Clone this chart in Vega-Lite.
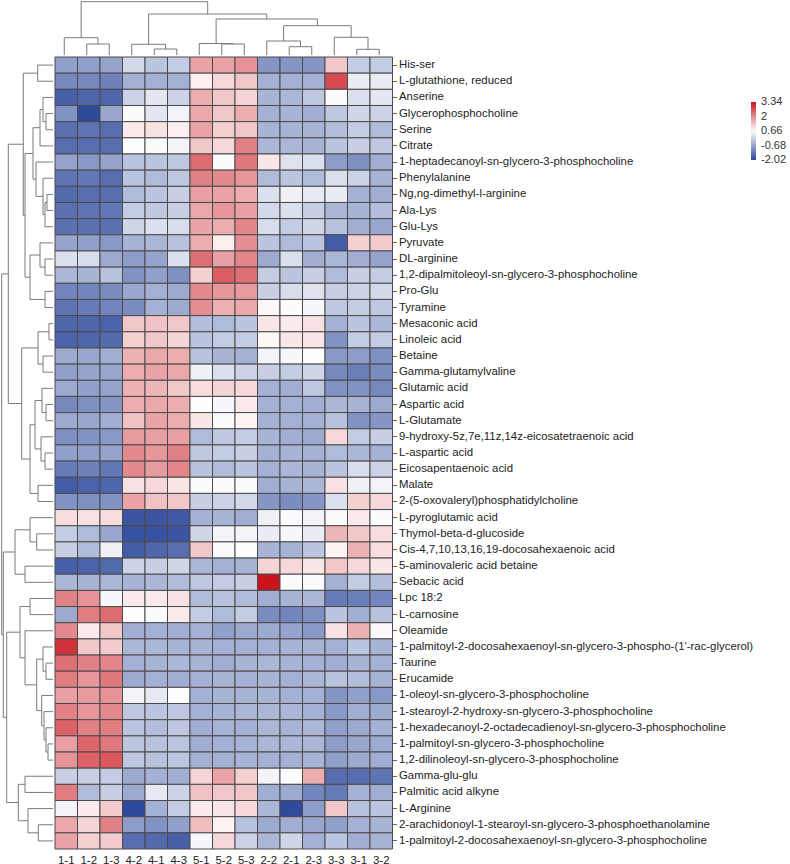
{
"$schema": "https://vega.github.io/schema/vega-lite/v6.json",
"background": "white",
"padding": 0,
"spacing": 0,
"config": {"view": {"stroke": null}, "font": "Liberation Sans", "concat": {"spacing": 0}},
"datasets": {
"names": [
{"r":1,"m":"His-ser"},{"r":2,"m":"L-glutathione, reduced"},{"r":3,"m":"Anserine"},{"r":4,"m":"Glycerophosphocholine"},{"r":5,"m":"Serine"},{"r":6,"m":"Citrate"},{"r":7,"m":"1-heptadecanoyl-sn-glycero-3-phosphocholine"},{"r":8,"m":"Phenylalanine"},{"r":9,"m":"Ng,ng-dimethyl-l-arginine"},{"r":10,"m":"Ala-Lys"},{"r":11,"m":"Glu-Lys"},{"r":12,"m":"Pyruvate"},{"r":13,"m":"DL-arginine"},{"r":14,"m":"1,2-dipalmitoleoyl-sn-glycero-3-phosphocholine"},{"r":15,"m":"Pro-Glu"},{"r":16,"m":"Tyramine"},{"r":17,"m":"Mesaconic acid"},{"r":18,"m":"Linoleic acid"},{"r":19,"m":"Betaine"},{"r":20,"m":"Gamma-glutamylvaline"},{"r":21,"m":"Glutamic acid"},{"r":22,"m":"Aspartic acid"},{"r":23,"m":"L-Glutamate"},{"r":24,"m":"9-hydroxy-5z,7e,11z,14z-eicosatetraenoic acid"},{"r":25,"m":"L-aspartic acid"},{"r":26,"m":"Eicosapentaenoic acid"},{"r":27,"m":"Malate"},{"r":28,"m":"2-(5-oxovaleryl)phosphatidylcholine"},{"r":29,"m":"L-pyroglutamic acid"},{"r":30,"m":"Thymol-beta-d-glucoside"},{"r":31,"m":"Cis-4,7,10,13,16,19-docosahexaenoic acid"},{"r":32,"m":"5-aminovaleric acid betaine"},{"r":33,"m":"Sebacic acid"},{"r":34,"m":"Lpc 18:2"},{"r":35,"m":"L-carnosine"},{"r":36,"m":"Oleamide"},{"r":37,"m":"1-palmitoyl-2-docosahexaenoyl-sn-glycero-3-phospho-(1'-rac-glycerol)"},{"r":38,"m":"Taurine"},{"r":39,"m":"Erucamide"},{"r":40,"m":"1-oleoyl-sn-glycero-3-phosphocholine"},{"r":41,"m":"1-stearoyl-2-hydroxy-sn-glycero-3-phosphocholine"},{"r":42,"m":"1-hexadecanoyl-2-octadecadienoyl-sn-glycero-3-phosphocholine"},{"r":43,"m":"1-palmitoyl-sn-glycero-3-phosphocholine"},{"r":44,"m":"1,2-dilinoleoyl-sn-glycero-3-phosphocholine"},{"r":45,"m":"Gamma-glu-glu"},{"r":46,"m":"Palmitic acid alkyne"},{"r":47,"m":"L-Arginine"},{"r":48,"m":"2-arachidonoyl-1-stearoyl-sn-glycero-3-phosphoethanolamine"},{"r":49,"m":"1-palmitoyl-2-docosahexaenoyl-sn-glycero-3-phosphocholine"}
],
"cells": [
{"r":1,"s":"1-1","v":-0.75},{"r":1,"s":"1-2","v":-0.75},{"r":1,"s":"1-3","v":-0.7},{"r":1,"s":"4-2","v":0.1},{"r":1,"s":"4-1","v":-0.2},{"r":1,"s":"4-3","v":-0.1},{"r":1,"s":"5-1","v":1.7},{"r":1,"s":"5-2","v":1.7},{"r":1,"s":"5-3","v":1.9},{"r":1,"s":"2-2","v":-0.9},{"r":1,"s":"2-1","v":-0.9},{"r":1,"s":"2-3","v":-0.9},{"r":1,"s":"3-3","v":1.3},{"r":1,"s":"3-1","v":-0.1},{"r":1,"s":"3-2","v":-0.1},
{"r":2,"s":"1-1","v":-1.1},{"r":2,"s":"1-2","v":-1.1},{"r":2,"s":"1-3","v":-1.2},{"r":2,"s":"4-2","v":-0.5},{"r":2,"s":"4-1","v":-0.5},{"r":2,"s":"4-3","v":-0.5},{"r":2,"s":"5-1","v":0.85},{"r":2,"s":"5-2","v":1.1},{"r":2,"s":"5-3","v":1.3},{"r":2,"s":"2-2","v":-0.5},{"r":2,"s":"2-1","v":-0.5},{"r":2,"s":"2-3","v":-0.5},{"r":2,"s":"3-3","v":2.7},{"r":2,"s":"3-1","v":0.4},{"r":2,"s":"3-2","v":0.4},
{"r":3,"s":"1-1","v":-1.7},{"r":3,"s":"1-2","v":-1.6},{"r":3,"s":"1-3","v":-1.6},{"r":3,"s":"4-2","v":0.0},{"r":3,"s":"4-1","v":0.3},{"r":3,"s":"4-3","v":0.0},{"r":3,"s":"5-1","v":1.6},{"r":3,"s":"5-2","v":1.3},{"r":3,"s":"5-3","v":1.15},{"r":3,"s":"2-2","v":-0.45},{"r":3,"s":"2-1","v":-0.4},{"r":3,"s":"2-3","v":-0.15},{"r":3,"s":"3-3","v":0.6},{"r":3,"s":"3-1","v":0.2},{"r":3,"s":"3-2","v":0.3},
{"r":4,"s":"1-1","v":-0.95},{"r":4,"s":"1-2","v":-2.02},{"r":4,"s":"1-3","v":-0.65},{"r":4,"s":"4-2","v":0.6},{"r":4,"s":"4-1","v":0.3},{"r":4,"s":"4-3","v":0.5},{"r":4,"s":"5-1","v":1.65},{"r":4,"s":"5-2","v":1.3},{"r":4,"s":"5-3","v":1.6},{"r":4,"s":"2-2","v":-0.5},{"r":4,"s":"2-1","v":-0.45},{"r":4,"s":"2-3","v":-0.55},{"r":4,"s":"3-3","v":-0.15},{"r":4,"s":"3-1","v":0.05},{"r":4,"s":"3-2","v":0.0},
{"r":5,"s":"1-1","v":-1.45},{"r":5,"s":"1-2","v":-1.4},{"r":5,"s":"1-3","v":-1.5},{"r":5,"s":"4-2","v":0.9},{"r":5,"s":"4-1","v":1.0},{"r":5,"s":"4-3","v":0.85},{"r":5,"s":"5-1","v":1.7},{"r":5,"s":"5-2","v":1.2},{"r":5,"s":"5-3","v":1.3},{"r":5,"s":"2-2","v":-0.45},{"r":5,"s":"2-1","v":-0.45},{"r":5,"s":"2-3","v":-0.45},{"r":5,"s":"3-3","v":-0.3},{"r":5,"s":"3-1","v":-0.1},{"r":5,"s":"3-2","v":-0.35},
{"r":6,"s":"1-1","v":-1.5},{"r":6,"s":"1-2","v":-1.5},{"r":6,"s":"1-3","v":-1.5},{"r":6,"s":"4-2","v":0.65},{"r":6,"s":"4-1","v":0.6},{"r":6,"s":"4-3","v":0.5},{"r":6,"s":"5-1","v":1.3},{"r":6,"s":"5-2","v":1.1},{"r":6,"s":"5-3","v":2.1},{"r":6,"s":"2-2","v":-0.4},{"r":6,"s":"2-1","v":-0.4},{"r":6,"s":"2-3","v":-0.45},{"r":6,"s":"3-3","v":-0.2},{"r":6,"s":"3-1","v":-0.05},{"r":6,"s":"3-2","v":-0.15},
{"r":7,"s":"1-1","v":-0.7},{"r":7,"s":"1-2","v":-0.85},{"r":7,"s":"1-3","v":-0.7},{"r":7,"s":"4-2","v":-0.2},{"r":7,"s":"4-1","v":-0.2},{"r":7,"s":"4-3","v":-0.15},{"r":7,"s":"5-1","v":2.35},{"r":7,"s":"5-2","v":0.7},{"r":7,"s":"5-3","v":2.2},{"r":7,"s":"2-2","v":0.95},{"r":7,"s":"2-1","v":0.25},{"r":7,"s":"2-3","v":0.2},{"r":7,"s":"3-3","v":-0.8},{"r":7,"s":"3-1","v":-1.0},{"r":7,"s":"3-2","v":-0.55},
{"r":8,"s":"1-1","v":-1.4},{"r":8,"s":"1-2","v":-1.35},{"r":8,"s":"1-3","v":-1.5},{"r":8,"s":"4-2","v":-0.2},{"r":8,"s":"4-1","v":-0.35},{"r":8,"s":"4-3","v":-0.15},{"r":8,"s":"5-1","v":2.1},{"r":8,"s":"5-2","v":2.0},{"r":8,"s":"5-3","v":1.85},{"r":8,"s":"2-2","v":-0.35},{"r":8,"s":"2-1","v":-0.2},{"r":8,"s":"2-3","v":-0.35},{"r":8,"s":"3-3","v":0.2},{"r":8,"s":"3-1","v":0.0},{"r":8,"s":"3-2","v":-0.45},
{"r":9,"s":"1-1","v":-1.55},{"r":9,"s":"1-2","v":-1.5},{"r":9,"s":"1-3","v":-1.5},{"r":9,"s":"4-2","v":-0.35},{"r":9,"s":"4-1","v":-0.2},{"r":9,"s":"4-3","v":-0.05},{"r":9,"s":"5-1","v":1.75},{"r":9,"s":"5-2","v":1.7},{"r":9,"s":"5-3","v":1.6},{"r":9,"s":"2-2","v":0.2},{"r":9,"s":"2-1","v":0.45},{"r":9,"s":"2-3","v":0.35},{"r":9,"s":"3-3","v":0.4},{"r":9,"s":"3-1","v":-0.5},{"r":9,"s":"3-2","v":-0.55},
{"r":10,"s":"1-1","v":-1.45},{"r":10,"s":"1-2","v":-1.4},{"r":10,"s":"1-3","v":-1.35},{"r":10,"s":"4-2","v":-0.1},{"r":10,"s":"4-1","v":-0.15},{"r":10,"s":"4-3","v":-0.05},{"r":10,"s":"5-1","v":1.65},{"r":10,"s":"5-2","v":1.85},{"r":10,"s":"5-3","v":1.75},{"r":10,"s":"2-2","v":0.1},{"r":10,"s":"2-1","v":0.2},{"r":10,"s":"2-3","v":-0.05},{"r":10,"s":"3-3","v":-0.4},{"r":10,"s":"3-1","v":-0.45},{"r":10,"s":"3-2","v":-0.3},
{"r":11,"s":"1-1","v":-1.45},{"r":11,"s":"1-2","v":-1.45},{"r":11,"s":"1-3","v":-1.45},{"r":11,"s":"4-2","v":0.05},{"r":11,"s":"4-1","v":0.2},{"r":11,"s":"4-3","v":0.15},{"r":11,"s":"5-1","v":1.7},{"r":11,"s":"5-2","v":1.6},{"r":11,"s":"5-3","v":2.05},{"r":11,"s":"2-2","v":0.15},{"r":11,"s":"2-1","v":-0.1},{"r":11,"s":"2-3","v":0.05},{"r":11,"s":"3-3","v":-0.25},{"r":11,"s":"3-1","v":-0.55},{"r":11,"s":"3-2","v":-0.65},
{"r":12,"s":"1-1","v":-0.7},{"r":12,"s":"1-2","v":-0.75},{"r":12,"s":"1-3","v":-0.85},{"r":12,"s":"4-2","v":-0.45},{"r":12,"s":"4-1","v":-0.4},{"r":12,"s":"4-3","v":-0.25},{"r":12,"s":"5-1","v":1.6},{"r":12,"s":"5-2","v":0.85},{"r":12,"s":"5-3","v":1.95},{"r":12,"s":"2-2","v":-0.2},{"r":12,"s":"2-1","v":-0.35},{"r":12,"s":"2-3","v":-0.2},{"r":12,"s":"3-3","v":-1.75},{"r":12,"s":"3-1","v":1.2},{"r":12,"s":"3-2","v":1.25},
{"r":13,"s":"1-1","v":0.2},{"r":13,"s":"1-2","v":0.15},{"r":13,"s":"1-3","v":-0.6},{"r":13,"s":"4-2","v":-0.8},{"r":13,"s":"4-1","v":-0.7},{"r":13,"s":"4-3","v":0.2},{"r":13,"s":"5-1","v":2.3},{"r":13,"s":"5-2","v":1.75},{"r":13,"s":"5-3","v":2.05},{"r":13,"s":"2-2","v":-0.6},{"r":13,"s":"2-1","v":0.2},{"r":13,"s":"2-3","v":-0.55},{"r":13,"s":"3-3","v":-0.4},{"r":13,"s":"3-1","v":-0.55},{"r":13,"s":"3-2","v":-0.7},
{"r":14,"s":"1-1","v":-0.4},{"r":14,"s":"1-2","v":-0.45},{"r":14,"s":"1-3","v":-0.25},{"r":14,"s":"4-2","v":-0.95},{"r":14,"s":"4-1","v":-0.75},{"r":14,"s":"4-3","v":-1.0},{"r":14,"s":"5-1","v":1.2},{"r":14,"s":"5-2","v":2.5},{"r":14,"s":"5-3","v":2.3},{"r":14,"s":"2-2","v":-0.1},{"r":14,"s":"2-1","v":-0.2},{"r":14,"s":"2-3","v":-0.05},{"r":14,"s":"3-3","v":-0.35},{"r":14,"s":"3-1","v":-0.05},{"r":14,"s":"3-2","v":-0.1},
{"r":15,"s":"1-1","v":-1.15},{"r":15,"s":"1-2","v":-1.15},{"r":15,"s":"1-3","v":-1.05},{"r":15,"s":"4-2","v":-0.65},{"r":15,"s":"4-1","v":-0.5},{"r":15,"s":"4-3","v":-0.6},{"r":15,"s":"5-1","v":2.0},{"r":15,"s":"5-2","v":1.85},{"r":15,"s":"5-3","v":1.8},{"r":15,"s":"2-2","v":-0.05},{"r":15,"s":"2-1","v":0.15},{"r":15,"s":"2-3","v":0.25},{"r":15,"s":"3-3","v":-0.05},{"r":15,"s":"3-1","v":0.0},{"r":15,"s":"3-2","v":0.1},
{"r":16,"s":"1-1","v":-1.4},{"r":16,"s":"1-2","v":-1.3},{"r":16,"s":"1-3","v":-1.15},{"r":16,"s":"4-2","v":-1.05},{"r":16,"s":"4-1","v":-0.5},{"r":16,"s":"4-3","v":-0.6},{"r":16,"s":"5-1","v":1.95},{"r":16,"s":"5-2","v":1.55},{"r":16,"s":"5-3","v":1.65},{"r":16,"s":"2-2","v":0.75},{"r":16,"s":"2-1","v":0.7},{"r":16,"s":"2-3","v":0.55},{"r":16,"s":"3-3","v":-0.15},{"r":16,"s":"3-1","v":-0.1},{"r":16,"s":"3-2","v":-0.15},
{"r":17,"s":"1-1","v":-1.6},{"r":17,"s":"1-2","v":-1.6},{"r":17,"s":"1-3","v":-1.65},{"r":17,"s":"4-2","v":1.3},{"r":17,"s":"4-1","v":1.35},{"r":17,"s":"4-3","v":1.3},{"r":17,"s":"5-1","v":-0.3},{"r":17,"s":"5-2","v":-0.35},{"r":17,"s":"5-3","v":-0.2},{"r":17,"s":"2-2","v":0.95},{"r":17,"s":"2-1","v":0.9},{"r":17,"s":"2-3","v":1.0},{"r":17,"s":"3-3","v":-0.5},{"r":17,"s":"3-1","v":-0.2},{"r":17,"s":"3-2","v":-0.4},
{"r":18,"s":"1-1","v":-1.65},{"r":18,"s":"1-2","v":-1.6},{"r":18,"s":"1-3","v":-1.55},{"r":18,"s":"4-2","v":1.2},{"r":18,"s":"4-1","v":1.3},{"r":18,"s":"4-3","v":1.15},{"r":18,"s":"5-1","v":-0.2},{"r":18,"s":"5-2","v":-0.1},{"r":18,"s":"5-3","v":-0.1},{"r":18,"s":"2-2","v":0.75},{"r":18,"s":"2-1","v":0.95},{"r":18,"s":"2-3","v":0.95},{"r":18,"s":"3-3","v":-0.95},{"r":18,"s":"3-1","v":-0.1},{"r":18,"s":"3-2","v":-0.1},
{"r":19,"s":"1-1","v":-0.6},{"r":19,"s":"1-2","v":-0.65},{"r":19,"s":"1-3","v":-0.55},{"r":19,"s":"4-2","v":1.55},{"r":19,"s":"4-1","v":1.65},{"r":19,"s":"4-3","v":1.6},{"r":19,"s":"5-1","v":-0.25},{"r":19,"s":"5-2","v":-0.45},{"r":19,"s":"5-3","v":-0.5},{"r":19,"s":"2-2","v":0.5},{"r":19,"s":"2-1","v":0.55},{"r":19,"s":"2-3","v":0.65},{"r":19,"s":"3-3","v":-0.85},{"r":19,"s":"3-1","v":-0.8},{"r":19,"s":"3-2","v":-1.0},
{"r":20,"s":"1-1","v":-0.75},{"r":20,"s":"1-2","v":-0.7},{"r":20,"s":"1-3","v":-0.65},{"r":20,"s":"4-2","v":1.6},{"r":20,"s":"4-1","v":1.7},{"r":20,"s":"4-3","v":1.65},{"r":20,"s":"5-1","v":0.45},{"r":20,"s":"5-2","v":0.2},{"r":20,"s":"5-3","v":0.0},{"r":20,"s":"2-2","v":-0.05},{"r":20,"s":"2-1","v":-0.1},{"r":20,"s":"2-3","v":0.05},{"r":20,"s":"3-3","v":-1.1},{"r":20,"s":"3-1","v":-1.25},{"r":20,"s":"3-2","v":-1.05},
{"r":21,"s":"1-1","v":-0.6},{"r":21,"s":"1-2","v":-0.75},{"r":21,"s":"1-3","v":-0.7},{"r":21,"s":"4-2","v":1.55},{"r":21,"s":"4-1","v":1.5},{"r":21,"s":"4-3","v":1.3},{"r":21,"s":"5-1","v":1.05},{"r":21,"s":"5-2","v":1.15},{"r":21,"s":"5-3","v":1.1},{"r":21,"s":"2-2","v":-0.5},{"r":21,"s":"2-1","v":-0.55},{"r":21,"s":"2-3","v":-0.15},{"r":21,"s":"3-3","v":-0.95},{"r":21,"s":"3-1","v":-0.95},{"r":21,"s":"3-2","v":-1.1},
{"r":22,"s":"1-1","v":-1.1},{"r":22,"s":"1-2","v":-1.0},{"r":22,"s":"1-3","v":-0.9},{"r":22,"s":"4-2","v":1.6},{"r":22,"s":"4-1","v":1.65},{"r":22,"s":"4-3","v":1.6},{"r":22,"s":"5-1","v":0.65},{"r":22,"s":"5-2","v":0.55},{"r":22,"s":"5-3","v":0.9},{"r":22,"s":"2-2","v":-0.5},{"r":22,"s":"2-1","v":-0.5},{"r":22,"s":"2-3","v":-0.55},{"r":22,"s":"3-3","v":-0.4},{"r":22,"s":"3-1","v":-0.45},{"r":22,"s":"3-2","v":-0.6},
{"r":23,"s":"1-1","v":-0.6},{"r":23,"s":"1-2","v":-0.65},{"r":23,"s":"1-3","v":-0.55},{"r":23,"s":"4-2","v":1.35},{"r":23,"s":"4-1","v":1.7},{"r":23,"s":"4-3","v":1.6},{"r":23,"s":"5-1","v":0.95},{"r":23,"s":"5-2","v":0.6},{"r":23,"s":"5-3","v":0.8},{"r":23,"s":"2-2","v":-0.5},{"r":23,"s":"2-1","v":-0.5},{"r":23,"s":"2-3","v":-0.5},{"r":23,"s":"3-3","v":-0.25},{"r":23,"s":"3-1","v":-0.95},{"r":23,"s":"3-2","v":-0.9},
{"r":24,"s":"1-1","v":-1.0},{"r":24,"s":"1-2","v":-0.95},{"r":24,"s":"1-3","v":-0.85},{"r":24,"s":"4-2","v":1.8},{"r":24,"s":"4-1","v":1.75},{"r":24,"s":"4-3","v":1.75},{"r":24,"s":"5-1","v":-0.35},{"r":24,"s":"5-2","v":-0.15},{"r":24,"s":"5-3","v":-0.1},{"r":24,"s":"2-2","v":-0.45},{"r":24,"s":"2-1","v":-0.55},{"r":24,"s":"2-3","v":-0.6},{"r":24,"s":"3-3","v":1.1},{"r":24,"s":"3-1","v":-0.1},{"r":24,"s":"3-2","v":-0.05},
{"r":25,"s":"1-1","v":-0.75},{"r":25,"s":"1-2","v":-0.75},{"r":25,"s":"1-3","v":-0.7},{"r":25,"s":"4-2","v":2.0},{"r":25,"s":"4-1","v":1.85},{"r":25,"s":"4-3","v":2.1},{"r":25,"s":"5-1","v":-0.15},{"r":25,"s":"5-2","v":-0.1},{"r":25,"s":"5-3","v":-0.05},{"r":25,"s":"2-2","v":-0.5},{"r":25,"s":"2-1","v":-0.45},{"r":25,"s":"2-3","v":-0.5},{"r":25,"s":"3-3","v":-0.35},{"r":25,"s":"3-1","v":-0.4},{"r":25,"s":"3-2","v":-0.5},
{"r":26,"s":"1-1","v":-1.3},{"r":26,"s":"1-2","v":-1.2},{"r":26,"s":"1-3","v":-1.35},{"r":26,"s":"4-2","v":2.0},{"r":26,"s":"4-1","v":1.8},{"r":26,"s":"4-3","v":2.05},{"r":26,"s":"5-1","v":-0.25},{"r":26,"s":"5-2","v":-0.35},{"r":26,"s":"5-3","v":-0.2},{"r":26,"s":"2-2","v":-0.5},{"r":26,"s":"2-1","v":-0.4},{"r":26,"s":"2-3","v":-0.45},{"r":26,"s":"3-3","v":-0.2},{"r":26,"s":"3-1","v":0.15},{"r":26,"s":"3-2","v":0.0},
{"r":27,"s":"1-1","v":-1.75},{"r":27,"s":"1-2","v":-1.65},{"r":27,"s":"1-3","v":-1.6},{"r":27,"s":"4-2","v":1.0},{"r":27,"s":"4-1","v":1.1},{"r":27,"s":"4-3","v":0.95},{"r":27,"s":"5-1","v":0.6},{"r":27,"s":"5-2","v":0.7},{"r":27,"s":"5-3","v":0.6},{"r":27,"s":"2-2","v":-0.55},{"r":27,"s":"2-1","v":-0.45},{"r":27,"s":"2-3","v":-0.4},{"r":27,"s":"3-3","v":1.0},{"r":27,"s":"3-1","v":0.45},{"r":27,"s":"3-2","v":0.5},
{"r":28,"s":"1-1","v":-0.95},{"r":28,"s":"1-2","v":-1.0},{"r":28,"s":"1-3","v":-0.95},{"r":28,"s":"4-2","v":1.7},{"r":28,"s":"4-1","v":1.35},{"r":28,"s":"4-3","v":1.3},{"r":28,"s":"5-1","v":-0.05},{"r":28,"s":"5-2","v":0.0},{"r":28,"s":"5-3","v":0.1},{"r":28,"s":"2-2","v":-0.9},{"r":28,"s":"2-1","v":-1.05},{"r":28,"s":"2-3","v":-0.9},{"r":28,"s":"3-3","v":0.2},{"r":28,"s":"3-1","v":1.2},{"r":28,"s":"3-2","v":1.1},
{"r":29,"s":"1-1","v":1.05},{"r":29,"s":"1-2","v":1.0},{"r":29,"s":"1-3","v":1.05},{"r":29,"s":"4-2","v":-1.85},{"r":29,"s":"4-1","v":-1.85},{"r":29,"s":"4-3","v":-1.8},{"r":29,"s":"5-1","v":-0.5},{"r":29,"s":"5-2","v":-0.45},{"r":29,"s":"5-3","v":-0.55},{"r":29,"s":"2-2","v":0.45},{"r":29,"s":"2-1","v":0.6},{"r":29,"s":"2-3","v":0.5},{"r":29,"s":"3-3","v":0.6},{"r":29,"s":"3-1","v":0.9},{"r":29,"s":"3-2","v":0.6},
{"r":30,"s":"1-1","v":-0.1},{"r":30,"s":"1-2","v":-0.35},{"r":30,"s":"1-3","v":-0.65},{"r":30,"s":"4-2","v":-1.9},{"r":30,"s":"4-1","v":-1.9},{"r":30,"s":"4-3","v":-1.85},{"r":30,"s":"5-1","v":0.05},{"r":30,"s":"5-2","v":0.5},{"r":30,"s":"5-3","v":0.5},{"r":30,"s":"2-2","v":0.4},{"r":30,"s":"2-1","v":0.55},{"r":30,"s":"2-3","v":0.4},{"r":30,"s":"3-3","v":1.5},{"r":30,"s":"3-1","v":1.3},{"r":30,"s":"3-2","v":1.05},
{"r":31,"s":"1-1","v":-0.05},{"r":31,"s":"1-2","v":-0.35},{"r":31,"s":"1-3","v":0.45},{"r":31,"s":"4-2","v":-1.75},{"r":31,"s":"4-1","v":-1.6},{"r":31,"s":"4-3","v":-1.5},{"r":31,"s":"5-1","v":1.3},{"r":31,"s":"5-2","v":0.6},{"r":31,"s":"5-3","v":0.65},{"r":31,"s":"2-2","v":-0.45},{"r":31,"s":"2-1","v":-0.45},{"r":31,"s":"2-3","v":-0.2},{"r":31,"s":"3-3","v":0.8},{"r":31,"s":"3-1","v":1.55},{"r":31,"s":"3-2","v":1.05},
{"r":32,"s":"1-1","v":-1.7},{"r":32,"s":"1-2","v":-1.65},{"r":32,"s":"1-3","v":-1.55},{"r":32,"s":"4-2","v":0.0},{"r":32,"s":"4-1","v":-0.05},{"r":32,"s":"4-3","v":0.05},{"r":32,"s":"5-1","v":-0.4},{"r":32,"s":"5-2","v":-0.5},{"r":32,"s":"5-3","v":-0.45},{"r":32,"s":"2-2","v":1.15},{"r":32,"s":"2-1","v":1.1},{"r":32,"s":"2-3","v":0.95},{"r":32,"s":"3-3","v":1.3},{"r":32,"s":"3-1","v":1.1},{"r":32,"s":"3-2","v":0.95},
{"r":33,"s":"1-1","v":-0.4},{"r":33,"s":"1-2","v":-0.45},{"r":33,"s":"1-3","v":-0.4},{"r":33,"s":"4-2","v":-0.45},{"r":33,"s":"4-1","v":-0.4},{"r":33,"s":"4-3","v":-0.35},{"r":33,"s":"5-1","v":-0.15},{"r":33,"s":"5-2","v":-0.1},{"r":33,"s":"5-3","v":-0.05},{"r":33,"s":"2-2","v":3.34},{"r":33,"s":"2-1","v":0.6},{"r":33,"s":"2-3","v":0.6},{"r":33,"s":"3-3","v":-0.5},{"r":33,"s":"3-1","v":-0.1},{"r":33,"s":"3-2","v":-0.3},
{"r":34,"s":"1-1","v":2.1},{"r":34,"s":"1-2","v":1.9},{"r":34,"s":"1-3","v":0.55},{"r":34,"s":"4-2","v":0.9},{"r":34,"s":"4-1","v":0.9},{"r":34,"s":"4-3","v":1.0},{"r":34,"s":"5-1","v":-0.35},{"r":34,"s":"5-2","v":-0.25},{"r":34,"s":"5-3","v":-0.35},{"r":34,"s":"2-2","v":-0.55},{"r":34,"s":"2-1","v":-0.45},{"r":34,"s":"2-3","v":-0.4},{"r":34,"s":"3-3","v":-1.3},{"r":34,"s":"3-1","v":-1.25},{"r":34,"s":"3-2","v":-1.15},
{"r":35,"s":"1-1","v":-0.6},{"r":35,"s":"1-2","v":2.15},{"r":35,"s":"1-3","v":2.35},{"r":35,"s":"4-2","v":0.65},{"r":35,"s":"4-1","v":0.6},{"r":35,"s":"4-3","v":0.9},{"r":35,"s":"5-1","v":-0.1},{"r":35,"s":"5-2","v":-0.35},{"r":35,"s":"5-3","v":-0.1},{"r":35,"s":"2-2","v":-1.05},{"r":35,"s":"2-1","v":-1.15},{"r":35,"s":"2-3","v":-1.0},{"r":35,"s":"3-3","v":-0.2},{"r":35,"s":"3-1","v":-0.55},{"r":35,"s":"3-2","v":-0.25},
{"r":36,"s":"1-1","v":2.0},{"r":36,"s":"1-2","v":0.9},{"r":36,"s":"1-3","v":1.3},{"r":36,"s":"4-2","v":-0.55},{"r":36,"s":"4-1","v":-0.5},{"r":36,"s":"4-3","v":-0.55},{"r":36,"s":"5-1","v":-0.5},{"r":36,"s":"5-2","v":-0.75},{"r":36,"s":"5-3","v":-0.6},{"r":36,"s":"2-2","v":-0.6},{"r":36,"s":"2-1","v":-0.7},{"r":36,"s":"2-3","v":-0.85},{"r":36,"s":"3-3","v":1.0},{"r":36,"s":"3-1","v":1.55},{"r":36,"s":"3-2","v":0.75},
{"r":37,"s":"1-1","v":3.0},{"r":37,"s":"1-2","v":1.3},{"r":37,"s":"1-3","v":1.25},{"r":37,"s":"4-2","v":-0.4},{"r":37,"s":"4-1","v":-0.4},{"r":37,"s":"4-3","v":-0.45},{"r":37,"s":"5-1","v":-0.45},{"r":37,"s":"5-2","v":-0.5},{"r":37,"s":"5-3","v":-0.5},{"r":37,"s":"2-2","v":-0.5},{"r":37,"s":"2-1","v":-0.45},{"r":37,"s":"2-3","v":-0.45},{"r":37,"s":"3-3","v":-0.5},{"r":37,"s":"3-1","v":-0.2},{"r":37,"s":"3-2","v":-0.45},
{"r":38,"s":"1-1","v":2.3},{"r":38,"s":"1-2","v":2.1},{"r":38,"s":"1-3","v":2.05},{"r":38,"s":"4-2","v":-0.5},{"r":38,"s":"4-1","v":-0.45},{"r":38,"s":"4-3","v":-0.4},{"r":38,"s":"5-1","v":-0.45},{"r":38,"s":"5-2","v":-0.55},{"r":38,"s":"5-3","v":-0.45},{"r":38,"s":"2-2","v":-0.4},{"r":38,"s":"2-1","v":-0.45},{"r":38,"s":"2-3","v":-0.5},{"r":38,"s":"3-3","v":-0.55},{"r":38,"s":"3-1","v":-0.45},{"r":38,"s":"3-2","v":-0.5},
{"r":39,"s":"1-1","v":2.15},{"r":39,"s":"1-2","v":1.85},{"r":39,"s":"1-3","v":2.2},{"r":39,"s":"4-2","v":-0.6},{"r":39,"s":"4-1","v":-0.5},{"r":39,"s":"4-3","v":-0.55},{"r":39,"s":"5-1","v":-0.5},{"r":39,"s":"5-2","v":-0.45},{"r":39,"s":"5-3","v":-0.5},{"r":39,"s":"2-2","v":-0.45},{"r":39,"s":"2-1","v":-0.5},{"r":39,"s":"2-3","v":-0.4},{"r":39,"s":"3-3","v":-0.25},{"r":39,"s":"3-1","v":-0.3},{"r":39,"s":"3-2","v":-0.45},
{"r":40,"s":"1-1","v":1.75},{"r":40,"s":"1-2","v":1.8},{"r":40,"s":"1-3","v":1.9},{"r":40,"s":"4-2","v":0.5},{"r":40,"s":"4-1","v":0.35},{"r":40,"s":"4-3","v":0.65},{"r":40,"s":"5-1","v":-0.5},{"r":40,"s":"5-2","v":-0.45},{"r":40,"s":"5-3","v":-0.45},{"r":40,"s":"2-2","v":-0.45},{"r":40,"s":"2-1","v":-0.5},{"r":40,"s":"2-3","v":-0.5},{"r":40,"s":"3-3","v":-0.9},{"r":40,"s":"3-1","v":-0.75},{"r":40,"s":"3-2","v":-0.85},
{"r":41,"s":"1-1","v":2.1},{"r":41,"s":"1-2","v":1.85},{"r":41,"s":"1-3","v":2.0},{"r":41,"s":"4-2","v":-0.15},{"r":41,"s":"4-1","v":-0.2},{"r":41,"s":"4-3","v":-0.15},{"r":41,"s":"5-1","v":-0.5},{"r":41,"s":"5-2","v":-0.45},{"r":41,"s":"5-3","v":-0.4},{"r":41,"s":"2-2","v":-0.4},{"r":41,"s":"2-1","v":-0.4},{"r":41,"s":"2-3","v":-0.5},{"r":41,"s":"3-3","v":-0.85},{"r":41,"s":"3-1","v":-0.55},{"r":41,"s":"3-2","v":-0.6},
{"r":42,"s":"1-1","v":2.45},{"r":42,"s":"1-2","v":2.1},{"r":42,"s":"1-3","v":2.15},{"r":42,"s":"4-2","v":-0.2},{"r":42,"s":"4-1","v":-0.3},{"r":42,"s":"4-3","v":-0.15},{"r":42,"s":"5-1","v":-0.55},{"r":42,"s":"5-2","v":-0.45},{"r":42,"s":"5-3","v":-0.5},{"r":42,"s":"2-2","v":-0.4},{"r":42,"s":"2-1","v":-0.45},{"r":42,"s":"2-3","v":-0.4},{"r":42,"s":"3-3","v":-0.75},{"r":42,"s":"3-1","v":-0.6},{"r":42,"s":"3-2","v":-0.5},
{"r":43,"s":"1-1","v":1.75},{"r":43,"s":"1-2","v":2.4},{"r":43,"s":"1-3","v":2.2},{"r":43,"s":"4-2","v":-0.2},{"r":43,"s":"4-1","v":-0.25},{"r":43,"s":"4-3","v":-0.2},{"r":43,"s":"5-1","v":-0.55},{"r":43,"s":"5-2","v":-0.5},{"r":43,"s":"5-3","v":-0.45},{"r":43,"s":"2-2","v":-0.4},{"r":43,"s":"2-1","v":-0.4},{"r":43,"s":"2-3","v":-0.4},{"r":43,"s":"3-3","v":-0.8},{"r":43,"s":"3-1","v":-0.65},{"r":43,"s":"3-2","v":-0.6},
{"r":44,"s":"1-1","v":1.9},{"r":44,"s":"1-2","v":2.45},{"r":44,"s":"1-3","v":2.55},{"r":44,"s":"4-2","v":-0.15},{"r":44,"s":"4-1","v":-0.25},{"r":44,"s":"4-3","v":-0.2},{"r":44,"s":"5-1","v":-0.5},{"r":44,"s":"5-2","v":-0.5},{"r":44,"s":"5-3","v":-0.45},{"r":44,"s":"2-2","v":-0.5},{"r":44,"s":"2-1","v":-0.5},{"r":44,"s":"2-3","v":-0.45},{"r":44,"s":"3-3","v":-0.75},{"r":44,"s":"3-1","v":-0.6},{"r":44,"s":"3-2","v":-0.55},
{"r":45,"s":"1-1","v":-0.05},{"r":45,"s":"1-2","v":-0.05},{"r":45,"s":"1-3","v":-0.1},{"r":45,"s":"4-2","v":-0.6},{"r":45,"s":"4-1","v":-0.5},{"r":45,"s":"4-3","v":-0.55},{"r":45,"s":"5-1","v":1.15},{"r":45,"s":"5-2","v":1.7},{"r":45,"s":"5-3","v":1.2},{"r":45,"s":"2-2","v":0.5},{"r":45,"s":"2-1","v":0.7},{"r":45,"s":"2-3","v":1.6},{"r":45,"s":"3-3","v":-1.5},{"r":45,"s":"3-1","v":-1.5},{"r":45,"s":"3-2","v":-1.4},
{"r":46,"s":"1-1","v":2.15},{"r":46,"s":"1-2","v":-0.35},{"r":46,"s":"1-3","v":-0.05},{"r":46,"s":"4-2","v":-0.6},{"r":46,"s":"4-1","v":0.35},{"r":46,"s":"4-3","v":0.0},{"r":46,"s":"5-1","v":1.35},{"r":46,"s":"5-2","v":1.3},{"r":46,"s":"5-3","v":1.3},{"r":46,"s":"2-2","v":-0.55},{"r":46,"s":"2-1","v":-0.6},{"r":46,"s":"2-3","v":-1.15},{"r":46,"s":"3-3","v":-1.3},{"r":46,"s":"3-1","v":-0.5},{"r":46,"s":"3-2","v":-0.55},
{"r":47,"s":"1-1","v":0.5},{"r":47,"s":"1-2","v":0.9},{"r":47,"s":"1-3","v":1.25},{"r":47,"s":"4-2","v":-2.02},{"r":47,"s":"4-1","v":-0.5},{"r":47,"s":"4-3","v":-0.1},{"r":47,"s":"5-1","v":0.9},{"r":47,"s":"5-2","v":0.95},{"r":47,"s":"5-3","v":1.1},{"r":47,"s":"2-2","v":-0.4},{"r":47,"s":"2-1","v":-2.0},{"r":47,"s":"2-3","v":-0.8},{"r":47,"s":"3-3","v":1.3},{"r":47,"s":"3-1","v":-0.25},{"r":47,"s":"3-2","v":-0.2},
{"r":48,"s":"1-1","v":1.65},{"r":48,"s":"1-2","v":1.15},{"r":48,"s":"1-3","v":2.1},{"r":48,"s":"4-2","v":-0.8},{"r":48,"s":"4-1","v":-0.95},{"r":48,"s":"4-3","v":-0.75},{"r":48,"s":"5-1","v":1.4},{"r":48,"s":"5-2","v":0.8},{"r":48,"s":"5-3","v":-0.25},{"r":48,"s":"2-2","v":-0.6},{"r":48,"s":"2-1","v":-0.55},{"r":48,"s":"2-3","v":-0.65},{"r":48,"s":"3-3","v":-0.75},{"r":48,"s":"3-1","v":-0.5},{"r":48,"s":"3-2","v":-0.45},
{"r":49,"s":"1-1","v":1.7},{"r":49,"s":"1-2","v":1.2},{"r":49,"s":"1-3","v":1.25},{"r":49,"s":"4-2","v":-1.5},{"r":49,"s":"4-1","v":-1.55},{"r":49,"s":"4-3","v":-1.7},{"r":49,"s":"5-1","v":0.55},{"r":49,"s":"5-2","v":1.1},{"r":49,"s":"5-3","v":0.0},{"r":49,"s":"2-2","v":-0.4},{"r":49,"s":"2-1","v":0.05},{"r":49,"s":"2-3","v":-0.5},{"r":49,"s":"3-3","v":-0.2},{"r":49,"s":"3-1","v":-0.55},{"r":49,"s":"3-2","v":-0.45}
],
"topdend": [
{"x1":1.5,"x2":2.5,"h1":11,"h2":11},{"x1":1.5,"x2":1.5,"h1":0,"h2":11},{"x1":2.5,"x2":2.5,"h1":0,"h2":11},
{"x1":0.5,"x2":2.0,"h1":17.3,"h2":17.3},{"x1":0.5,"x2":0.5,"h1":0,"h2":17.3},{"x1":2.0,"x2":2.0,"h1":11,"h2":17.3},
{"x1":4.5,"x2":5.5,"h1":6,"h2":6},{"x1":4.5,"x2":4.5,"h1":0,"h2":6},{"x1":5.5,"x2":5.5,"h1":0,"h2":6},
{"x1":3.5,"x2":5.0,"h1":10.7,"h2":10.7},{"x1":3.5,"x2":3.5,"h1":0,"h2":10.7},{"x1":5.0,"x2":5.0,"h1":6,"h2":10.7},
{"x1":7.5,"x2":8.5,"h1":11,"h2":11},{"x1":7.5,"x2":7.5,"h1":0,"h2":11},{"x1":8.5,"x2":8.5,"h1":0,"h2":11},
{"x1":6.5,"x2":8.0,"h1":11.5,"h2":11.5},{"x1":6.5,"x2":6.5,"h1":0,"h2":11.5},{"x1":8.0,"x2":8.0,"h1":11,"h2":11.5},
{"x1":10.5,"x2":11.5,"h1":8.3,"h2":8.3},{"x1":10.5,"x2":10.5,"h1":0,"h2":8.3},{"x1":11.5,"x2":11.5,"h1":0,"h2":8.3},
{"x1":9.5,"x2":11.0,"h1":14,"h2":14},{"x1":9.5,"x2":9.5,"h1":0,"h2":14},{"x1":11.0,"x2":11.0,"h1":8.3,"h2":14},
{"x1":13.5,"x2":14.5,"h1":5.7,"h2":5.7},{"x1":13.5,"x2":13.5,"h1":0,"h2":5.7},{"x1":14.5,"x2":14.5,"h1":0,"h2":5.7},
{"x1":12.5,"x2":14.0,"h1":17.7,"h2":17.7},{"x1":12.5,"x2":12.5,"h1":0,"h2":17.7},{"x1":14.0,"x2":14.0,"h1":5.7,"h2":17.7},
{"x1":10.25,"x2":13.25,"h1":29.3,"h2":29.3},{"x1":10.25,"x2":10.25,"h1":14,"h2":29.3},{"x1":13.25,"x2":13.25,"h1":17.7,"h2":29.3},
{"x1":7.25,"x2":11.75,"h1":36,"h2":36},{"x1":7.25,"x2":7.25,"h1":11.5,"h2":36},{"x1":11.75,"x2":11.75,"h1":29.3,"h2":36},
{"x1":4.25,"x2":9.5,"h1":41,"h2":41},{"x1":4.25,"x2":4.25,"h1":10.7,"h2":41},{"x1":9.5,"x2":9.5,"h1":36,"h2":41},
{"x1":1.25,"x2":6.875,"h1":53.3,"h2":53.3},{"x1":1.25,"x2":1.25,"h1":17.3,"h2":53.3},{"x1":6.875,"x2":6.875,"h1":41,"h2":53.3}
],
"leftdend": [
{"h1":7,"h2":7,"y1":4,"y2":5},{"h1":0,"h2":7,"y1":4,"y2":4},{"h1":0,"h2":7,"y1":5,"y2":5},
{"h1":10,"h2":10,"y1":3,"y2":4.5},{"h1":0,"h2":10,"y1":3,"y2":3},{"h1":7,"h2":10,"y1":4.5,"y2":4.5},
{"h1":13,"h2":13,"y1":3.75,"y2":6},{"h1":10,"h2":13,"y1":3.75,"y2":3.75},{"h1":0,"h2":13,"y1":6,"y2":6},
{"h1":6,"h2":6,"y1":9,"y2":10},{"h1":0,"h2":6,"y1":9,"y2":9},{"h1":0,"h2":6,"y1":10,"y2":10},
{"h1":8,"h2":8,"y1":9.5,"y2":11},{"h1":6,"h2":8,"y1":9.5,"y2":9.5},{"h1":0,"h2":8,"y1":11,"y2":11},
{"h1":10,"h2":10,"y1":8,"y2":10.25},{"h1":0,"h2":10,"y1":8,"y2":8},{"h1":8,"h2":10,"y1":10.25,"y2":10.25},
{"h1":17,"h2":17,"y1":7,"y2":9.125},{"h1":0,"h2":17,"y1":7,"y2":7},{"h1":10,"h2":17,"y1":9.125,"y2":9.125},
{"h1":20,"h2":20,"y1":4.875,"y2":8.0625},{"h1":13,"h2":20,"y1":4.875,"y2":4.875},{"h1":17,"h2":20,"y1":8.0625,"y2":8.0625},
{"h1":8,"h2":8,"y1":13,"y2":14},{"h1":0,"h2":8,"y1":13,"y2":13},{"h1":0,"h2":8,"y1":14,"y2":14},
{"h1":13,"h2":13,"y1":12,"y2":13.5},{"h1":0,"h2":13,"y1":12,"y2":12},{"h1":8,"h2":13,"y1":13.5,"y2":13.5},
{"h1":8,"h2":8,"y1":15,"y2":16},{"h1":0,"h2":8,"y1":15,"y2":15},{"h1":0,"h2":8,"y1":16,"y2":16},
{"h1":23,"h2":23,"y1":12.75,"y2":15.5},{"h1":13,"h2":23,"y1":12.75,"y2":12.75},{"h1":8,"h2":23,"y1":15.5,"y2":15.5},
{"h1":28,"h2":28,"y1":6.469,"y2":14.125},{"h1":20,"h2":28,"y1":6.469,"y2":6.469},{"h1":23,"h2":28,"y1":14.125,"y2":14.125},
{"h1":15.3,"h2":15.3,"y1":1,"y2":2},{"h1":0,"h2":15.3,"y1":1,"y2":1},{"h1":0,"h2":15.3,"y1":2,"y2":2},
{"h1":29.7,"h2":29.7,"y1":1.5,"y2":10.297},{"h1":15.3,"h2":29.7,"y1":1.5,"y2":1.5},{"h1":28,"h2":29.7,"y1":10.297,"y2":10.297},
{"h1":4,"h2":4,"y1":17,"y2":18},{"h1":0,"h2":4,"y1":17,"y2":17},{"h1":0,"h2":4,"y1":18,"y2":18},
{"h1":10,"h2":10,"y1":19,"y2":20},{"h1":0,"h2":10,"y1":19,"y2":19},{"h1":0,"h2":10,"y1":20,"y2":20},
{"h1":15,"h2":15,"y1":17.5,"y2":19.5},{"h1":4,"h2":15,"y1":17.5,"y2":17.5},{"h1":10,"h2":15,"y1":19.5,"y2":19.5},
{"h1":7,"h2":7,"y1":22,"y2":23},{"h1":0,"h2":7,"y1":22,"y2":22},{"h1":0,"h2":7,"y1":23,"y2":23},
{"h1":11,"h2":11,"y1":21,"y2":22.5},{"h1":0,"h2":11,"y1":21,"y2":21},{"h1":7,"h2":11,"y1":22.5,"y2":22.5},
{"h1":8,"h2":8,"y1":25,"y2":26},{"h1":0,"h2":8,"y1":25,"y2":25},{"h1":0,"h2":8,"y1":26,"y2":26},
{"h1":12,"h2":12,"y1":24,"y2":25.5},{"h1":0,"h2":12,"y1":24,"y2":24},{"h1":8,"h2":12,"y1":25.5,"y2":25.5},
{"h1":18,"h2":18,"y1":21.75,"y2":24.75},{"h1":11,"h2":18,"y1":21.75,"y2":21.75},{"h1":12,"h2":18,"y1":24.75,"y2":24.75},
{"h1":15,"h2":15,"y1":27,"y2":28},{"h1":0,"h2":15,"y1":27,"y2":27},{"h1":0,"h2":15,"y1":28,"y2":28},
{"h1":23,"h2":23,"y1":23.25,"y2":27.5},{"h1":18,"h2":23,"y1":23.25,"y2":23.25},{"h1":15,"h2":23,"y1":27.5,"y2":27.5},
{"h1":31.3,"h2":31.3,"y1":18.5,"y2":25.375},{"h1":15,"h2":31.3,"y1":18.5,"y2":18.5},{"h1":23,"h2":31.3,"y1":25.375,"y2":25.375},
{"h1":44.7,"h2":44.7,"y1":5.898,"y2":21.938},{"h1":29.7,"h2":44.7,"y1":5.898,"y2":5.898},{"h1":31.3,"h2":44.7,"y1":21.938,"y2":21.938},
{"h1":16.3,"h2":16.3,"y1":30,"y2":31},{"h1":0,"h2":16.3,"y1":30,"y2":30},{"h1":0,"h2":16.3,"y1":31,"y2":31},
{"h1":23,"h2":23,"y1":29,"y2":30.5},{"h1":0,"h2":23,"y1":29,"y2":29},{"h1":16.3,"h2":23,"y1":30.5,"y2":30.5},
{"h1":28,"h2":28,"y1":32,"y2":33},{"h1":0,"h2":28,"y1":32,"y2":32},{"h1":0,"h2":28,"y1":33,"y2":33},
{"h1":38,"h2":38,"y1":29.75,"y2":32.5},{"h1":23,"h2":38,"y1":29.75,"y2":29.75},{"h1":28,"h2":38,"y1":32.5,"y2":32.5},
{"h1":23,"h2":23,"y1":34,"y2":35},{"h1":0,"h2":23,"y1":34,"y2":34},{"h1":0,"h2":23,"y1":35,"y2":35},
{"h1":7,"h2":7,"y1":38,"y2":39},{"h1":0,"h2":7,"y1":38,"y2":38},{"h1":0,"h2":7,"y1":39,"y2":39},
{"h1":10,"h2":10,"y1":37,"y2":38.5},{"h1":0,"h2":10,"y1":37,"y2":37},{"h1":7,"h2":10,"y1":38.5,"y2":38.5},
{"h1":5,"h2":5,"y1":43,"y2":44},{"h1":0,"h2":5,"y1":43,"y2":43},{"h1":0,"h2":5,"y1":44,"y2":44},
{"h1":7,"h2":7,"y1":42,"y2":43.5},{"h1":0,"h2":7,"y1":42,"y2":42},{"h1":5,"h2":7,"y1":43.5,"y2":43.5},
{"h1":9,"h2":9,"y1":41,"y2":42.75},{"h1":0,"h2":9,"y1":41,"y2":41},{"h1":7,"h2":9,"y1":42.75,"y2":42.75},
{"h1":11.3,"h2":11.3,"y1":40,"y2":41.875},{"h1":0,"h2":11.3,"y1":40,"y2":40},{"h1":9,"h2":11.3,"y1":41.875,"y2":41.875},
{"h1":16.3,"h2":16.3,"y1":37.75,"y2":40.938},{"h1":10,"h2":16.3,"y1":37.75,"y2":37.75},{"h1":11.3,"h2":16.3,"y1":40.938,"y2":40.938},
{"h1":28,"h2":28,"y1":36,"y2":39.344},{"h1":0,"h2":28,"y1":36,"y2":36},{"h1":16.3,"h2":28,"y1":39.344,"y2":39.344},
{"h1":33,"h2":33,"y1":34.5,"y2":37.672},{"h1":23,"h2":33,"y1":34.5,"y2":34.5},{"h1":28,"h2":33,"y1":37.672,"y2":37.672},
{"h1":28,"h2":28,"y1":45,"y2":46},{"h1":0,"h2":28,"y1":45,"y2":45},{"h1":0,"h2":28,"y1":46,"y2":46},
{"h1":14.7,"h2":14.7,"y1":48,"y2":49},{"h1":0,"h2":14.7,"y1":48,"y2":48},{"h1":0,"h2":14.7,"y1":49,"y2":49},
{"h1":25,"h2":25,"y1":47,"y2":48.5},{"h1":0,"h2":25,"y1":47,"y2":47},{"h1":14.7,"h2":25,"y1":48.5,"y2":48.5},
{"h1":34.7,"h2":34.7,"y1":45.5,"y2":47.75},{"h1":28,"h2":34.7,"y1":45.5,"y2":45.5},{"h1":25,"h2":34.7,"y1":47.75,"y2":47.75},
{"h1":46.3,"h2":46.3,"y1":36.086,"y2":46.625},{"h1":33,"h2":46.3,"y1":36.086,"y2":36.086},{"h1":34.7,"h2":46.3,"y1":46.625,"y2":46.625},
{"h1":49.7,"h2":49.7,"y1":31.125,"y2":41.355},{"h1":38,"h2":49.7,"y1":31.125,"y2":31.125},{"h1":46.3,"h2":49.7,"y1":41.355,"y2":41.355},
{"h1":51.3,"h2":51.3,"y1":13.918,"y2":36.24},{"h1":44.7,"h2":51.3,"y1":13.918,"y2":13.918},{"h1":49.7,"h2":51.3,"y1":36.24,"y2":36.24}
]
},
"vconcat": [
{"spacing": 0, "hconcat": [
 {"width": 53, "height": 55, "data": {"values": []}, "mark": {"type": "point", "opacity": 0}, "encoding": {}},
 {"width": 337.5, "height": 55, "data": {"name": "topdend"},
  "mark": {"type": "rule", "color": "#7a7a7a", "strokeWidth": 1},
  "encoding": {
   "x": {"field": "x1", "type": "quantitative", "scale": {"domain": [0, 15], "nice": false, "zero": false}, "axis": null},
   "x2": {"field": "x2"},
   "y": {"field": "h1", "type": "quantitative", "scale": {"domain": [0, 55], "nice": false}, "axis": null},
   "y2": {"field": "h2"}
  }}
]},
{"spacing": 0, "hconcat": [
 {"width": 53, "height": 792, "data": {"name": "leftdend"},
  "mark": {"type": "rule", "color": "#7a7a7a", "strokeWidth": 1},
  "encoding": {
   "x": {"field": "h1", "type": "quantitative", "scale": {"domain": [0, 53], "nice": false, "reverse": true}, "axis": null},
   "x2": {"field": "h2"},
   "y": {"field": "y1", "type": "quantitative", "scale": {"domain": [0.5, 49.5], "nice": false, "zero": false, "reverse": true}, "axis": null},
   "y2": {"field": "y2"}
  }},
 {"width": 337.5, "height": 792, "data": {"name": "cells"},
  "transform": [{"lookup": "r", "from": {"data": {"name": "names"}, "key": "r", "fields": ["m"]}}],
  "mark": {"type": "rect", "stroke": "#4a4a4a", "strokeWidth": 1},
  "encoding": {
   "x": {"field": "s", "type": "nominal", "sort": ["1-1","1-2","1-3","4-2","4-1","4-3","5-1","5-2","5-3","2-2","2-1","2-3","3-3","3-1","3-2"],
     "scale": {"paddingInner": 0, "paddingOuter": 0},
     "axis": {"orient": "bottom", "title": null, "labelAngle": 0, "domain": false, "ticks": false, "labelPadding": 5, "labelFontSize": 11.4, "labelColor": "#222", "labelFont": "Liberation Sans"}},
   "y": {"field": "m", "type": "nominal", "sort": {"field": "r", "op": "min"},
     "scale": {"paddingInner": 0, "paddingOuter": 0},
     "axis": {"orient": "right", "title": null, "domain": false, "tickSize": 4, "tickColor": "#666", "labelPadding": 2, "labelFontSize": 11.4, "labelColor": "#222", "labelFont": "Liberation Sans", "labelLimit": 500}},
   "color": {"field": "v", "type": "quantitative",
     "scale": {"domain": [-2.02, 0.66, 3.34], "range": ["#2E4A9C", "#FFFFFF", "#C9141C"], "interpolate": "rgb"},
     "legend": {"title": null, "orient": "none", "legendX": 751, "legendY": 102, "direction": "vertical", "gradientLength": 58, "gradientThickness": 5, "gradientStrokeWidth": 0, "values": [-2.02, -0.68, 0.66, 2, 3.34], "labelExpr": "datum.value < 0 ? '-' + format(-datum.value, '.2~f') : format(datum.value, '.2~f')", "labelFontSize": 11, "labelColor": "#333", "labelOffset": 5, "labelOverlap": false, "labelFont": "Liberation Sans",
       "encode": {"labels": {"update": {"baseline": {"value": "middle"}}}}}}
  }}
]}
]
}
